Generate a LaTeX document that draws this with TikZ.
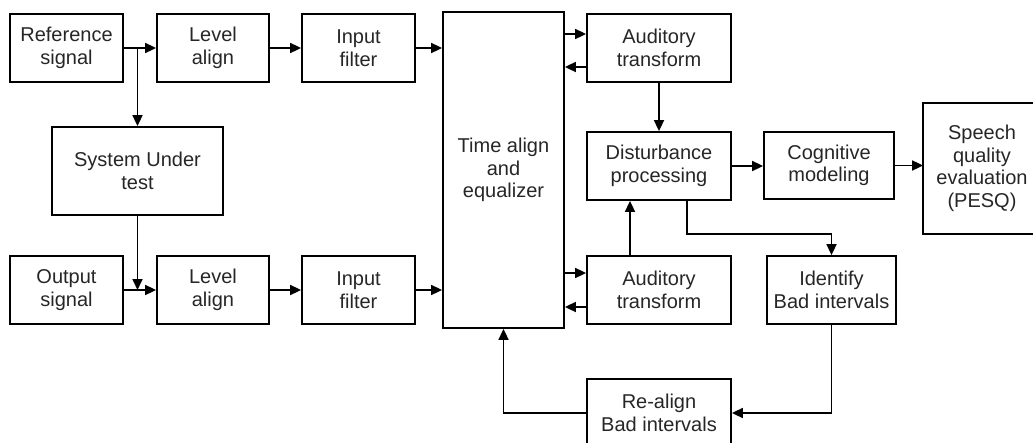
\documentclass[tikz,border=0pt]{standalone}
\usepackage{fontspec}
\setmainfont{Liberation Sans}
\usetikzlibrary{arrows.meta}
\tikzstyle{blk}=[draw,line width=1.8pt,minimum width=113pt,minimum height=68pt,align=center,inner sep=0pt,text=black!85]
\tikzstyle{myarrow}=[line width=1.7pt,-{Triangle[length=11pt,width=10pt]}]

\begin{document}
\begin{tikzpicture}[x=1pt,y=-1pt,font=\fontsize{20}{22.6}\selectfont]
		\useasboundingbox (0,0) rectangle (1033,442);

		% the two input rows
		\node[blk] (ref) at (66.5,48) {Reference\\signal};
		\node[blk] (out) at (66.5,290) {Output\\signal};
		\foreach \n / \y in {1/48,2/290} {
			\node[blk,minimum width=112pt] (lev\n) at (213,\y) {Level\\align};
			\node[blk] (inf\n) at (358.5,\y) {Input\\filter};
		}
		\node[blk,minimum width=171pt,minimum height=88pt] (sut) at (137.5,171) {System Under\\test};

		\node[blk,minimum width=121pt,minimum height=316pt] (time) at (503.5,170) {Time align\\and\\equalizer};

		\node[blk,minimum width=144pt] (aud1) at (659,48) {Auditory\\transform};
		\node[blk,minimum width=144pt] (dist) at (659,166) {Disturbance\\processing};
		\node[blk,minimum width=144pt] (aud2) at (659,290) {Auditory\\transform};
		\node[blk,minimum width=144pt] (realign) at (659,413) {Re-align\\Bad intervals};

		\node[blk,minimum width=130pt,minimum height=67pt] (cog) at (829,165.5) {Cognitive\\modeling};
		\node[blk,minimum width=129pt] (ident) at (831.5,290) {Identify\\Bad intervals};
		% box runs off the right edge
		\node[blk,draw=none,minimum width=116pt,minimum height=129pt] (speech) at (982,168.5) {Speech\\quality\\evaluation\\(PESQ)};
		\draw[line width=1.8pt] (speech.north west) rectangle ([xshift=40pt]speech.south east);

		\coordinate (split) at (687,234);

		% left part
		\draw[myarrow] (ref) -- (lev1);
		\draw[myarrow] (ref.east -| sut.north) -- (sut.north);
		\draw[myarrow] (sut.south) -- (sut.south |- out.east);
		\draw[myarrow] (out) -- (lev2);
		\foreach \n in {1,2} {
			\draw[myarrow] (lev\n) -- (inf\n);
			\draw[myarrow] (inf\n.east) -- (inf\n.east -| time.west);
		}

		% time align <-> auditory transforms
		\draw[myarrow] ([yshift=14pt]aud1.west -| time.east) -- ([yshift=14pt]aud1.west);
		\draw[myarrow] ([yshift=-19pt]aud1.west) -- ([yshift=-19pt]aud1.west -| time.east);
		\draw[myarrow] ([yshift=17pt]aud2.west -| time.east) -- ([yshift=17pt]aud2.west);
		\draw[myarrow] ([yshift=-17pt]aud2.west) -- ([yshift=-17pt]aud2.west -| time.east);

		% right part
		\draw[myarrow] (aud1) -- (dist);
		\draw[myarrow] ([xshift=-29pt]aud2.north) -- ([xshift=-29pt]dist.south);
		\draw[myarrow] (dist.south -| split) -- (split) -| (ident.north);
		\draw[myarrow] (dist.east) -- (dist.east -| cog.west);
		\draw[myarrow] (cog.east) -- (cog.east -| speech.west);
		\draw[myarrow] (ident.south) |- (realign.east);
		\draw[myarrow] (realign.west) -| (time.south);
	\end{tikzpicture}
\end{document}
